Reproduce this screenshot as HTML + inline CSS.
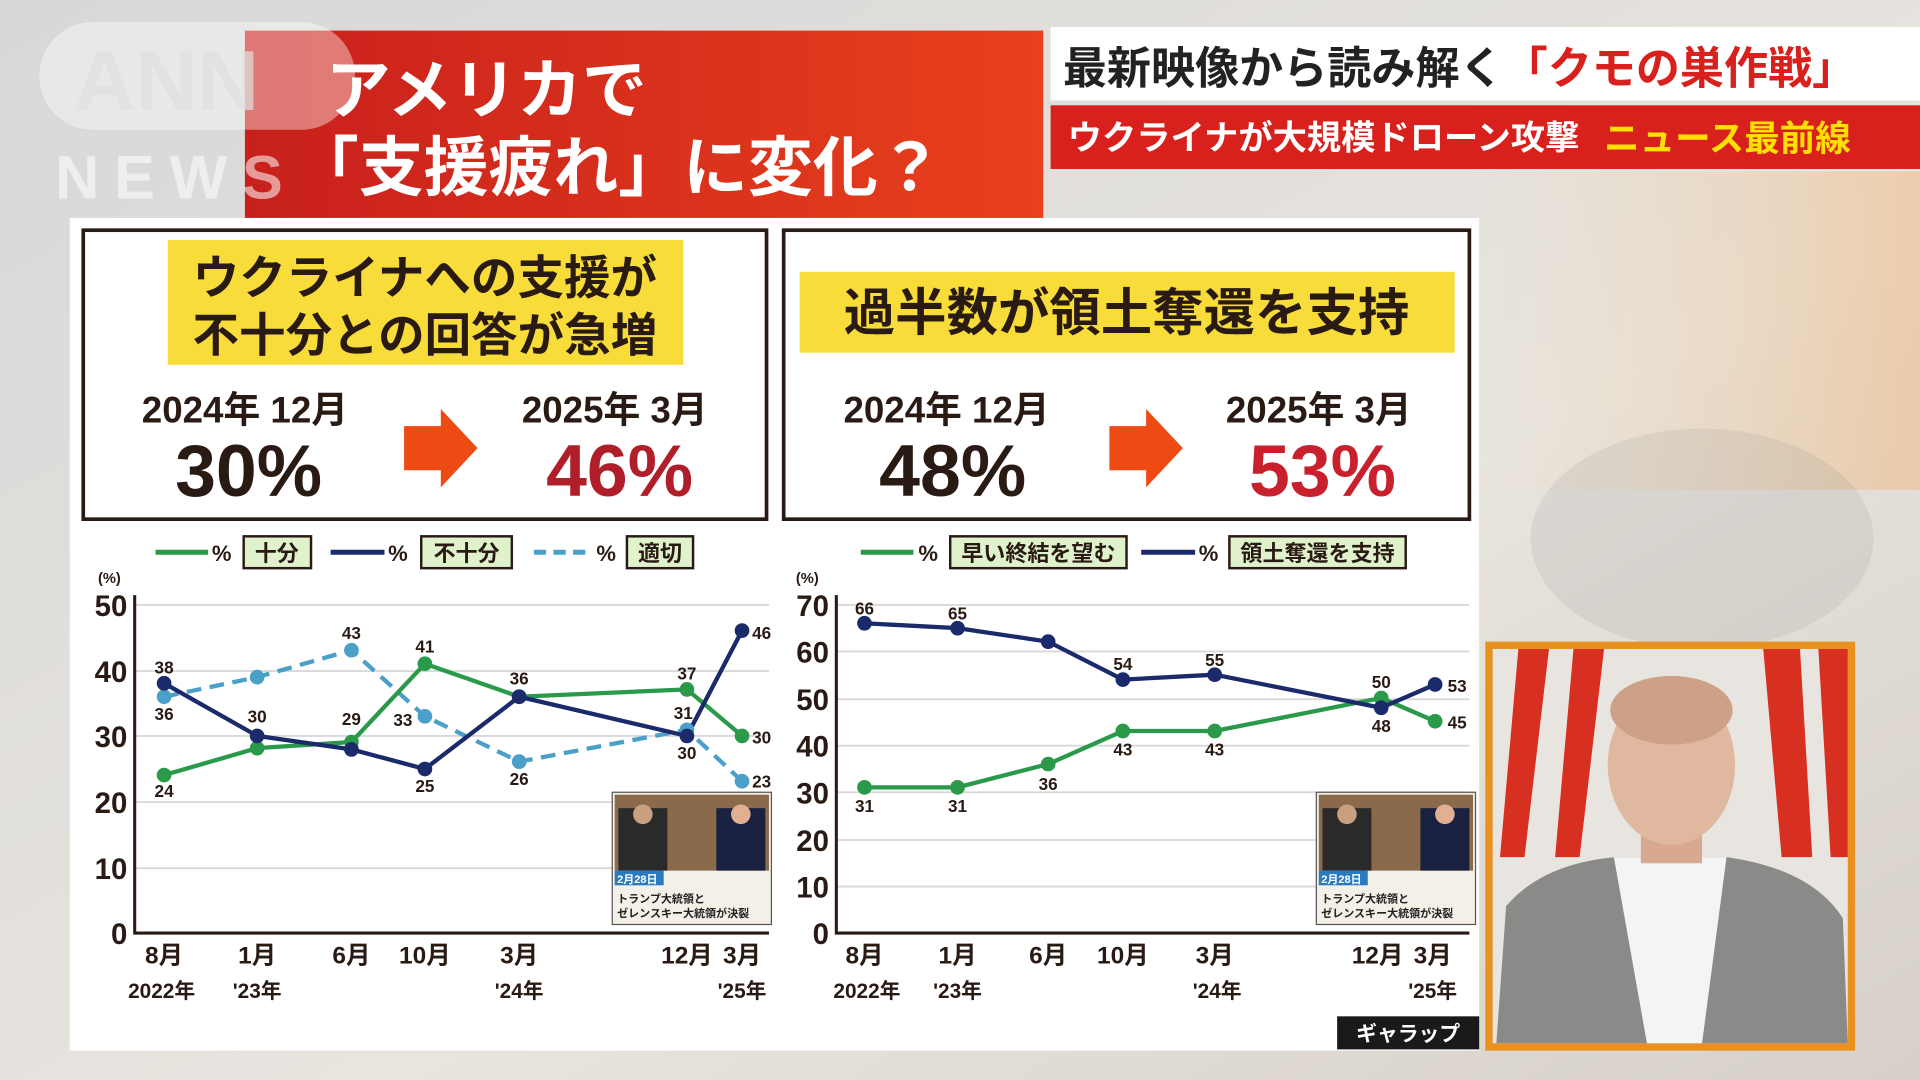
<!DOCTYPE html>
<html><head><meta charset="utf-8"><style>
html,body{margin:0;padding:0;width:1920px;height:1080px;overflow:hidden;background:#e4e2de}
svg{display:block}
text{font-family:"Liberation Sans","Noto Sans CJK JP",sans-serif;font-weight:bold}
</style></head><body>
<svg width="1920" height="1080" viewBox="0 0 1568 882" preserveAspectRatio="none" xmlns="http://www.w3.org/2000/svg">
<defs>
<linearGradient id="bg" x1="0" y1="0" x2="1" y2="1"><stop offset="0" stop-color="#d8d8d8"/><stop offset="0.6" stop-color="#e8e4de"/><stop offset="1" stop-color="#d6d0c8"/></linearGradient>
<linearGradient id="red" x1="0" y1="0" x2="1" y2="0"><stop offset="0" stop-color="#c8201c"/><stop offset="1" stop-color="#e8401c"/></linearGradient>
<linearGradient id="org" x1="0" y1="0" x2="1" y2="0"><stop offset="0" stop-color="#f0d0a0" stop-opacity="0"/><stop offset="1" stop-color="#f2b070"/></linearGradient>
</defs>
<rect width="1568" height="882" fill="url(#bg)"/>
<rect x="1208" y="140" width="360" height="260" fill="url(#org)" opacity="0.45"/>
<ellipse cx="1390" cy="440" rx="140" ry="90" fill="#7a7a7a" opacity="0.12"/>
<!-- title -->
<rect x="200" y="25" width="652" height="153" fill="url(#red)"/>
<text x="266" y="92" font-size="53" fill="#fff">アメリカで</text>
<text x="240" y="155" font-size="53" fill="#fff">「支援疲れ」に変化？</text>
<!-- ANN logo overlay -->
<rect x="32" y="18" width="258" height="88" rx="44" fill="#fff" opacity="0.4"/>
<text x="60" y="90" font-size="70" fill="#e0e0e0" opacity="0.7">ANN</text>
<text x="45" y="162" font-size="50" fill="#fff" opacity="0.55" letter-spacing="12">NEWS</text>
<!-- top right -->
<rect x="858" y="22" width="710" height="60" fill="#fff"/>
<text x="868" y="68" font-size="36" fill="#222">最新映像から読み解く<tspan fill="#d8201c">「クモの巣作戦」</tspan></text>
<rect x="858" y="86" width="710" height="52" fill="#d8201c"/>
<text x="872" y="122" font-size="28" fill="#fff">ウクライナが大規模ドローン攻撃</text>
<text x="1310" y="123" font-size="29" fill="#ffe000">ニュース最前線</text>
<!-- main panel -->
<rect x="57" y="178" width="1151" height="680" fill="#fff"/>
<rect x="68" y="188" width="558" height="236" fill="none" stroke="#2a1a14" stroke-width="3"/>
<rect x="640" y="188" width="560" height="236" fill="none" stroke="#2a1a14" stroke-width="3"/>
<rect x="137" y="196" width="421" height="102" fill="#f7dc3a"/>
<text x="347" y="240" font-size="38" fill="#2a1a14" text-anchor="middle">ウクライナへの支援が</text>
<text x="347" y="287" font-size="38" fill="#2a1a14" text-anchor="middle">不十分との回答が急増</text>
<rect x="653" y="222" width="535" height="66" fill="#f7dc3a"/>
<text x="920" y="270" font-size="42" fill="#2a1a14" text-anchor="middle">過半数が領土奪還を支持</text>
<g font-size="30" fill="#2a1a14" text-anchor="middle">
<text x="200" y="345">2024年 12月</text><text x="502" y="345">2025年 3月</text>
<text x="773" y="345">2024年 12月</text><text x="1077" y="345">2025年 3月</text></g>
<g font-size="60" text-anchor="middle">
<text x="203" y="405" fill="#2a1a14">30%</text><text x="506" y="405" fill="#b01e2a">46%</text>
<text x="778" y="405" fill="#2a1a14">48%</text><text x="1080" y="405" fill="#c8202c">53%</text></g>
<polygon points="330,348 360,348 360,334 390,366 360,398 360,384 330,384" fill="#ee4a14"/>
<polygon points="906,348 936,348 936,334 966,366 936,398 936,384 906,384" fill="#ee4a14"/>
<!-- legends -->
<g font-size="18" fill="#2a1a14">
<line x1="127" y1="451" x2="170" y2="451" stroke="#2a9a4a" stroke-width="4"/><text x="173" y="458">%</text>
<rect x="199" y="438" width="55" height="26" fill="#dff2cc" stroke="#2a1a14" stroke-width="2"/><text x="226" y="458" text-anchor="middle">十分</text>
<line x1="270" y1="451" x2="314" y2="451" stroke="#1a2a6a" stroke-width="4"/><text x="317" y="458">%</text>
<rect x="344" y="438" width="74" height="26" fill="#dff2cc" stroke="#2a1a14" stroke-width="2"/><text x="381" y="458" text-anchor="middle">不十分</text>
<line x1="436" y1="451" x2="484" y2="451" stroke="#4aa0c8" stroke-width="4" stroke-dasharray="10,6"/><text x="487" y="458">%</text>
<rect x="512" y="438" width="54" height="26" fill="#dff2cc" stroke="#2a1a14" stroke-width="2"/><text x="539" y="458" text-anchor="middle">適切</text>
<line x1="703" y1="451" x2="746" y2="451" stroke="#2a9a4a" stroke-width="4"/><text x="750" y="458">%</text>
<rect x="776" y="438" width="144" height="26" fill="#dff2cc" stroke="#2a1a14" stroke-width="2"/><text x="848" y="458" text-anchor="middle">早い終結を望む</text>
<line x1="932" y1="451" x2="976" y2="451" stroke="#1a2a6a" stroke-width="4"/><text x="979" y="458">%</text>
<rect x="1004" y="438" width="144" height="26" fill="#dff2cc" stroke="#2a1a14" stroke-width="2"/><text x="1076" y="458" text-anchor="middle">領土奪還を支持</text>
</g>
<!-- grid -->
<g stroke="#d8d8d8" stroke-width="1.5">
<line x1="110" y1="494" x2="628" y2="494"/><line x1="110" y1="548" x2="628" y2="548"/><line x1="110" y1="601" x2="628" y2="601"/><line x1="110" y1="655" x2="628" y2="655"/><line x1="110" y1="709" x2="628" y2="709"/>
<line x1="683" y1="494" x2="1200" y2="494"/><line x1="683" y1="532" x2="1200" y2="532"/><line x1="683" y1="571" x2="1200" y2="571"/><line x1="683" y1="609" x2="1200" y2="609"/><line x1="683" y1="647" x2="1200" y2="647"/><line x1="683" y1="686" x2="1200" y2="686"/><line x1="683" y1="724" x2="1200" y2="724"/>
</g>
<polyline points="110,486 110,762 628,762" fill="none" stroke="#2a1a14" stroke-width="2.5"/>
<polyline points="683,486 683,762 1200,762" fill="none" stroke="#2a1a14" stroke-width="2.5"/>
<g font-size="24" fill="#2a1a14" text-anchor="end" font-weight="normal">
<text x="104" y="503">50</text><text x="104" y="557">40</text><text x="104" y="610">30</text><text x="104" y="664">20</text><text x="104" y="718">10</text><text x="104" y="771">0</text>
<text x="677" y="503">70</text><text x="677" y="541">60</text><text x="677" y="580">50</text><text x="677" y="618">40</text><text x="677" y="656">30</text><text x="677" y="695">20</text><text x="677" y="733">10</text><text x="677" y="771">0</text>
</g>
<text x="80" y="476" font-size="12" fill="#2a1a14">(%)</text><text x="650" y="476" font-size="12" fill="#2a1a14">(%)</text>
<g font-size="20" fill="#2a1a14" text-anchor="middle">
<text x="134" y="787">8月</text><text x="210" y="787">1月</text><text x="287" y="787">6月</text><text x="347" y="787">10月</text><text x="424" y="787">3月</text><text x="561" y="787">12月</text><text x="606" y="787">3月</text>
<g font-size="17"><text x="132" y="815">2022年</text><text x="210" y="815">'23年</text><text x="424" y="815">'24年</text><text x="606" y="815">'25年</text></g>
<text x="706" y="787">8月</text><text x="782" y="787">1月</text><text x="856" y="787">6月</text><text x="917" y="787">10月</text><text x="992" y="787">3月</text><text x="1125" y="787">12月</text><text x="1170" y="787">3月</text>
<g font-size="17"><text x="708" y="815">2022年</text><text x="782" y="815">'23年</text><text x="994" y="815">'24年</text><text x="1170" y="815">'25年</text></g>
</g>
<!-- left series -->
<g fill="none" stroke-width="3.5">
<polyline points="134,569 210,553 287,531 347,585 424,622 561,596 606,638" stroke="#4aa0c8" stroke-dasharray="12,7"/>
<polyline points="134,633 210,611 287,606 347,542 424,569 561,563 606,601" stroke="#2a9a4a"/>
<polyline points="134,558 210,601 287,612 347,628 424,569 561,601 606,515" stroke="#1a2a6a"/>
</g>
<g fill="#4aa0c8"><circle cx="134" cy="569" r="6"/><circle cx="210" cy="553" r="6"/><circle cx="287" cy="531" r="6"/><circle cx="347" cy="585" r="6"/><circle cx="424" cy="622" r="6"/><circle cx="561" cy="596" r="6"/><circle cx="606" cy="638" r="6"/></g>
<g fill="#2a9a4a"><circle cx="134" cy="633" r="6"/><circle cx="210" cy="611" r="6"/><circle cx="287" cy="606" r="6"/><circle cx="347" cy="542" r="6"/><circle cx="424" cy="569" r="6"/><circle cx="561" cy="563" r="6"/><circle cx="606" cy="601" r="6"/></g>
<g fill="#1a2a6a"><circle cx="134" cy="558" r="6"/><circle cx="210" cy="601" r="6"/><circle cx="287" cy="612" r="6"/><circle cx="347" cy="628" r="6"/><circle cx="424" cy="569" r="6"/><circle cx="561" cy="601" r="6"/><circle cx="606" cy="515" r="6"/></g>
<g font-size="14" fill="#2a1a14" text-anchor="middle">
<text x="134" y="550">38</text><text x="134" y="588">36</text><text x="134" y="651">24</text><text x="210" y="590">30</text><text x="287" y="522">43</text><text x="287" y="592">29</text><text x="329" y="593">33</text><text x="347" y="533">41</text><text x="347" y="647">25</text><text x="424" y="559">36</text><text x="424" y="641">26</text><text x="561" y="555">37</text><text x="558" y="587">31</text><text x="561" y="620">30</text><text x="622" y="607">30</text><text x="622" y="522">46</text><text x="622" y="643">23</text>
</g>
<!-- right series -->
<g fill="none" stroke-width="3.5">
<polyline points="706,643 782,643 856,624 917,597 992,597 1128,570 1172,589" stroke="#2a9a4a"/>
<polyline points="706,509 782,513 856,524 917,555 992,551 1128,578 1172,559" stroke="#1a2a6a"/>
</g>
<g fill="#2a9a4a"><circle cx="706" cy="643" r="6"/><circle cx="782" cy="643" r="6"/><circle cx="856" cy="624" r="6"/><circle cx="917" cy="597" r="6"/><circle cx="992" cy="597" r="6"/><circle cx="1128" cy="570" r="6"/><circle cx="1172" cy="589" r="6"/></g>
<g fill="#1a2a6a"><circle cx="706" cy="509" r="6"/><circle cx="782" cy="513" r="6"/><circle cx="856" cy="524" r="6"/><circle cx="917" cy="555" r="6"/><circle cx="992" cy="551" r="6"/><circle cx="1128" cy="578" r="6"/><circle cx="1172" cy="559" r="6"/></g>
<g font-size="14" fill="#2a1a14" text-anchor="middle">
<text x="706" y="502">66</text><text x="782" y="506">65</text><text x="917" y="547">54</text><text x="992" y="544">55</text><text x="1128" y="562">50</text><text x="1128" y="598">48</text><text x="1190" y="565">53</text><text x="1190" y="595">45</text>
<text x="706" y="663">31</text><text x="782" y="663">31</text><text x="856" y="645">36</text><text x="917" y="617">43</text><text x="992" y="617">43</text>
</g>
<!-- inset thumbnails -->
<g>
<rect x="500" y="647" width="130" height="108" fill="#f4f0e8" stroke="#555" stroke-width="1"/>
<rect x="502" y="649" width="126" height="62" fill="#8a6a4a"/><rect x="505" y="660" width="40" height="51" fill="#2a2a2a"/><rect x="585" y="660" width="40" height="51" fill="#1a2040"/><circle cx="525" cy="665" r="8" fill="#c8a080"/><circle cx="605" cy="665" r="8" fill="#e0b090"/>
<rect x="502" y="711" width="40" height="12" fill="#2a7ac0"/><text x="504" y="721" font-size="9" fill="#fff">2月28日</text>
<text x="504" y="737" font-size="9" fill="#222">トランプ大統領と</text><text x="504" y="749" font-size="9" fill="#222">ゼレンスキー大統領が決裂</text>
<rect x="1075" y="647" width="130" height="108" fill="#f4f0e8" stroke="#555" stroke-width="1"/>
<rect x="1077" y="649" width="126" height="62" fill="#8a6a4a"/><rect x="1080" y="660" width="40" height="51" fill="#2a2a2a"/><rect x="1160" y="660" width="40" height="51" fill="#1a2040"/><circle cx="1100" cy="665" r="8" fill="#c8a080"/><circle cx="1180" cy="665" r="8" fill="#e0b090"/>
<rect x="1077" y="711" width="40" height="12" fill="#2a7ac0"/><text x="1079" y="721" font-size="9" fill="#fff">2月28日</text>
<text x="1079" y="737" font-size="9" fill="#222">トランプ大統領と</text><text x="1079" y="749" font-size="9" fill="#222">ゼレンスキー大統領が決裂</text>
</g>
<rect x="1092" y="830" width="116" height="27" fill="#1a1a1a"/>
<text x="1150" y="850" font-size="17" fill="#fff" text-anchor="middle">ギャラップ</text>
<!-- person video -->
<rect x="1213" y="524" width="302" height="334" fill="#e89020"/>
<rect x="1219" y="530" width="290" height="322" fill="#e8e4e0"/>
<polygon points="1240,530 1265,530 1245,700 1225,700" fill="#d83020"/>
<polygon points="1285,530 1310,530 1290,700 1270,700" fill="#d83020"/>
<polygon points="1440,530 1470,530 1480,700 1455,700" fill="#d83020"/>
<polygon points="1485,530 1509,530 1509,700 1495,700" fill="#d83020"/>
<path d="M1222,852 L1230,740 Q1260,705 1320,700 L1410,700 Q1480,710 1505,750 L1509,852 Z" fill="#8a8a88"/>
<path d="M1318,700 L1345,852 L1390,852 L1410,700 Z" fill="#f4f4f4"/>
<rect x="1340" y="660" width="50" height="45" fill="#d8a890"/>
<ellipse cx="1365" cy="625" rx="52" ry="65" fill="#e0b8a0"/>
<ellipse cx="1365" cy="580" rx="50" ry="28" fill="#cda088"/>
</svg>
</body></html>
